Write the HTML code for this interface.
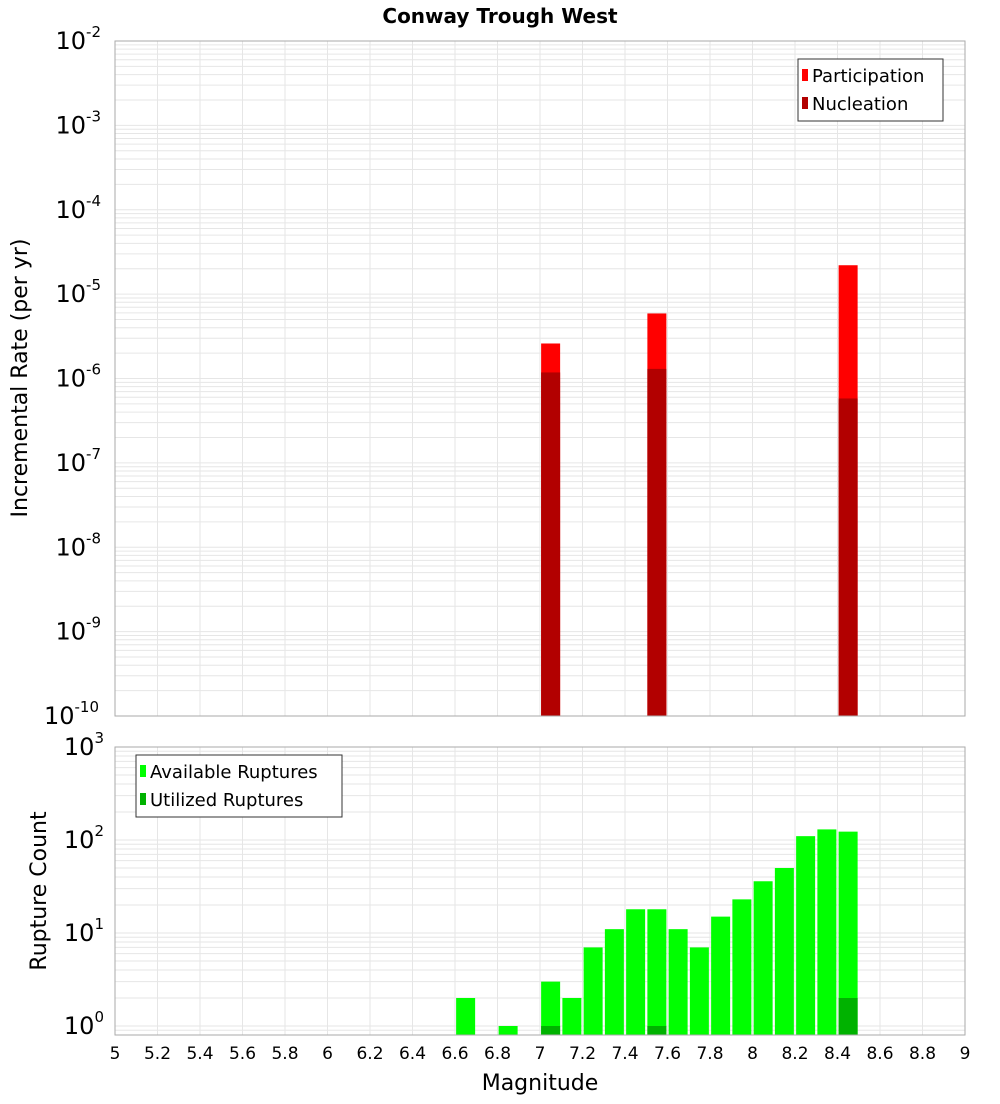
<!DOCTYPE html>
<html><head><meta charset="utf-8"><style>
body{margin:0;background:#fff;font-family:"DejaVu Sans","Liberation Sans",sans-serif}
</style></head><body>
<svg id="c" width="1000" height="1100" xmlns="http://www.w3.org/2000/svg" font-family="DejaVu Sans, Liberation Sans, sans-serif">
<text x="500" y="23" text-anchor="middle" font-size="20" font-weight="bold">Conway Trough West</text>
<text transform="translate(27,378) rotate(-90)" text-anchor="middle" font-size="22">Incremental Rate (per yr)</text>
<text transform="translate(46,891) rotate(-90)" text-anchor="middle" font-size="22">Rupture Count</text>
<text x="540" y="1090" text-anchor="middle" font-size="22">Magnitude</text>
<g id="g"></g>
</svg>
<script>
const rateMags=[7.05,7.55,8.45];
const participation=[2.6e-6,5.9e-6,2.2e-5];
const nucleation=[1.18e-6,1.3e-6,5.8e-7];
const countMags=[6.65,6.85,7.05,7.15,7.25,7.35,7.45,7.55,7.65,7.75,7.85,7.95,8.05,8.15,8.25,8.35,8.45];
const available=[2,1,3,2,7,11,18,18,11,7,15,23,36,50,110,130,123];
const utilizedMags=[7.05,7.55,8.45];
const utilized=[1,1,2];
const xTicks=[5,5.2,5.4,5.6,5.8,6,6.2,6.4,6.6,6.8,7,7.2,7.4,7.6,7.8,8,8.2,8.4,8.6,8.8,9];
const topExp=[-2,-3,-4,-5,-6,-7,-8,-9,-10];
const botExp=[3,2,1,0];

const NS='http://www.w3.org/2000/svg';
const g=document.getElementById('g');
const L=115,R=965;
const X=m=>L+(m-5)/4*(R-L);
const T0=41,T1=716;
const yTop=v=>T1-(Math.log10(v)+10)/8*(T1-T0);
const B0=747,B1=1035,Bdec=93,Bone=1026;
const yBot=v=>Bone-Math.log10(v)*Bdec;
function el(t,a,p){const e=document.createElementNS(NS,t);for(const k in a)e.setAttribute(k,a[k]);(p||g).appendChild(e);return e;}
function grid(y0,y1,yf,dmin,dmax){
  for(const t of xTicks){const l=el('line',{x1:X(t),x2:X(t),y1:y0,y2:y1,stroke:'#e6e6e6','stroke-width':1});
  }
  for(let d=dmin;d<dmax;d++)for(let k=1;k<10;k++){const y=yf(k*Math.pow(10,d));if(y<y0||y>y1)continue;
  const l=el('line',{x1:L,x2:R,y1:y,y2:y,stroke:'#e6e6e6','stroke-width':1});
  }
}
grid(T0,T1,yTop,-10,-2);
grid(B0,B1,yBot,-1,3);
const bw=19;
rateMags.forEach((m,i)=>{
  let r=el('rect',{x:X(m)-bw/2,y:yTop(participation[i]),width:bw,height:T1-yTop(participation[i]),fill:'#ff0000'});
  
  r=el('rect',{x:X(m)-bw/2,y:yTop(nucleation[i]),width:bw,height:T1-yTop(nucleation[i]),fill:'#b20000'});
  
});
countMags.forEach((m,i)=>{
  const r=el('rect',{x:X(m)-bw/2,y:yBot(available[i]),width:bw,height:B1-yBot(available[i]),fill:'#00ff00'});
  
});
utilizedMags.forEach((m,i)=>{
  const r=el('rect',{x:X(m)-bw/2,y:yBot(utilized[i]),width:bw,height:B1-yBot(utilized[i]),fill:'#00b200'});
  
});
let f=el('rect',{x:L,y:T0,width:R-L,height:T1-T0,fill:'none',stroke:'#aaa'});

f=el('rect',{x:L,y:B0,width:R-L,height:B1-B0,fill:'none',stroke:'#aaa'});

function pow(x,y,e,n){const t=el('text',{x:x,y:y,'text-anchor':'end','font-size':24});
  
  t.textContent='10';const s=el('tspan',{dy:-12,'font-size':15},t);s.textContent=e;}
topExp.forEach(e=>pow(113-(String(e).length>2?2:0)-12,yTop(Math.pow(10,e))+8,e,'top-y-tick-label'));
botExp.forEach(e=>pow(104,(e===0?1035:yBot(Math.pow(10,e)))+ (e===0?-1:8),e,'bottom-y-tick-label'));
xTicks.forEach(t=>{const s=el('text',{x:X(t),y:1059,'text-anchor':'middle','font-size':17});
  
  s.textContent=String(t);});
function legend(x,y,w,items,n){const gg=el('g',{});
  el('rect',{x:x,y:y,width:w,height:items.length*28+6,fill:'#fff',stroke:'#333'},gg);
  items.forEach((it,i)=>{el('rect',{x:x+4,y:y+10+i*28,width:6,height:12,fill:it[1]},gg);
  const t=el('text',{x:x+14,y:y+23+i*28,'font-size':18},gg);t.textContent=it[0];
  });}
legend(798,59,145,[['Participation','#ff0000'],['Nucleation','#b20000']],'top-legend');
legend(136,755,206,[['Available Ruptures','#00ff00'],['Utilized Ruptures','#00b200']],'bottom-legend');
</script>
</body></html>
